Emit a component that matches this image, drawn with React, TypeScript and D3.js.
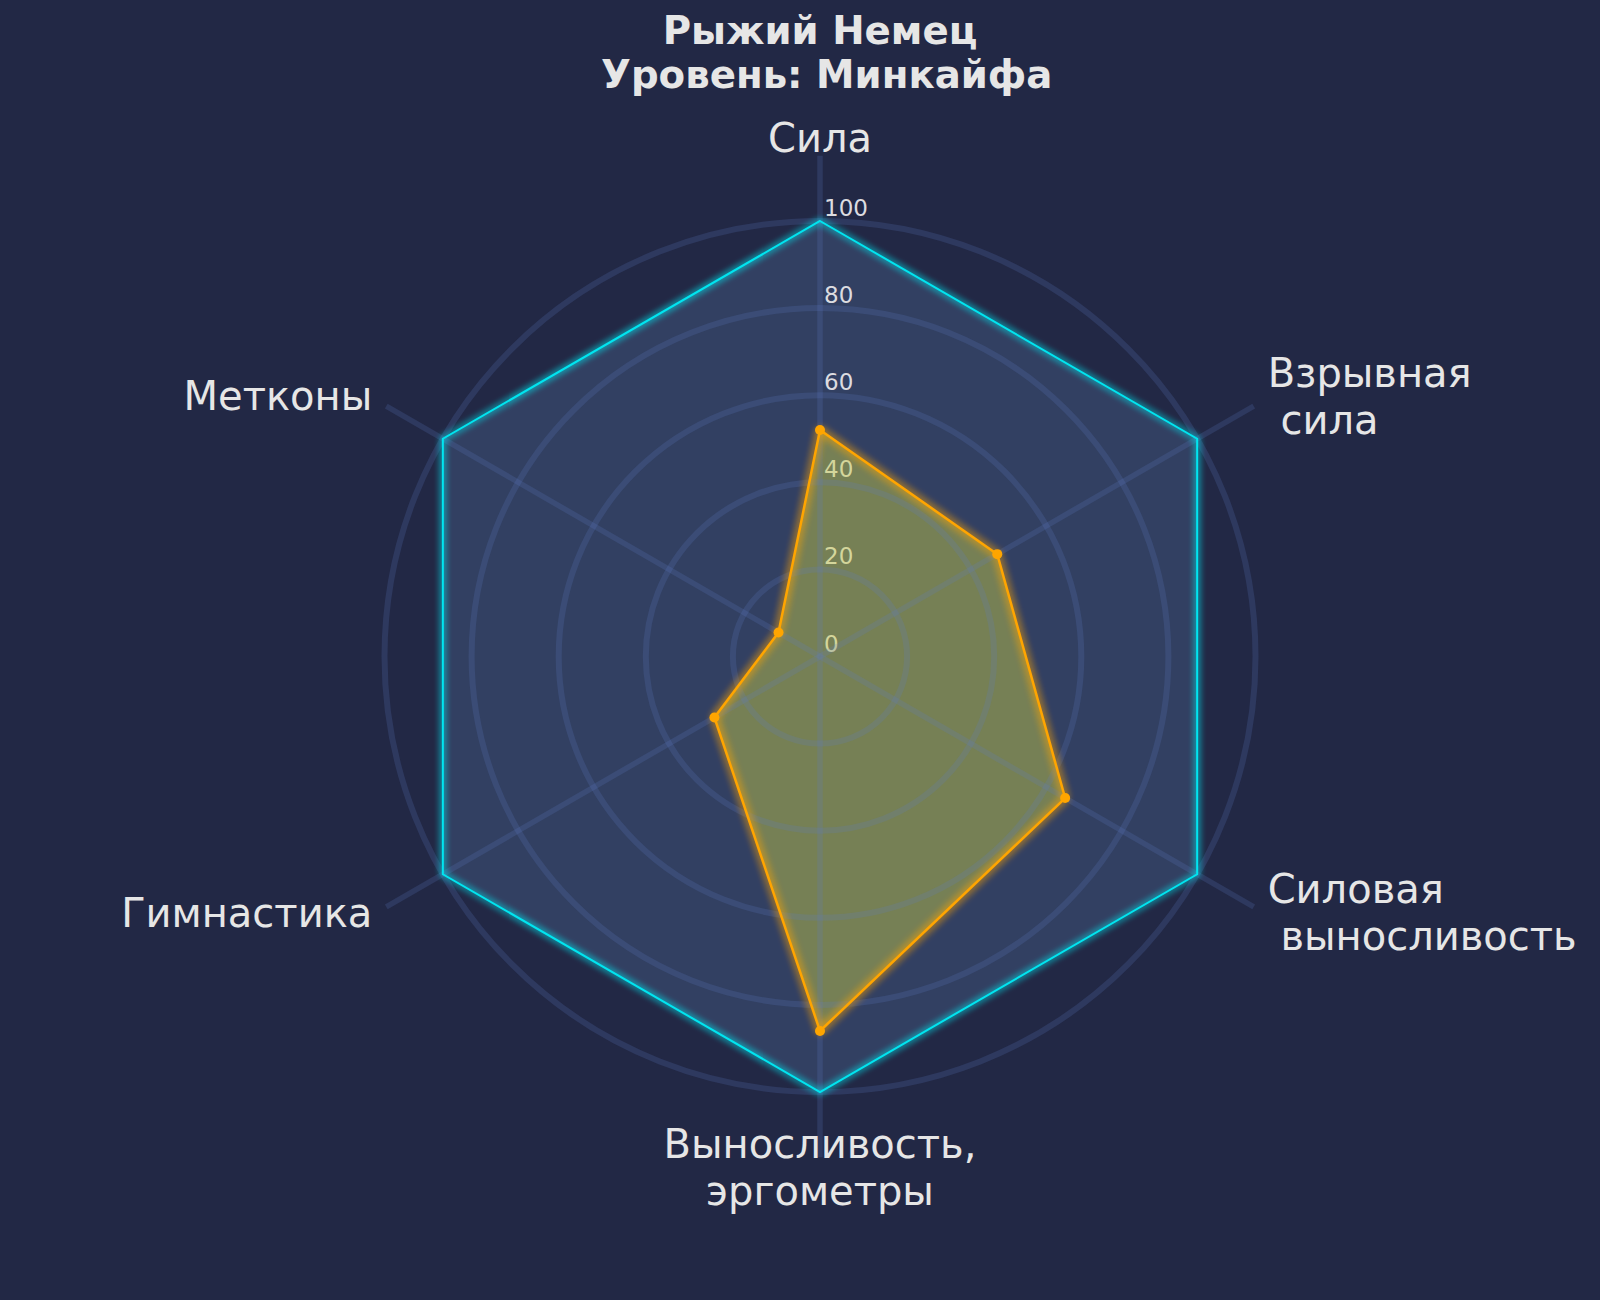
import React, { useEffect, useRef } from "react";
import * as d3 from "d3";

const titleLines = ["Рыжий Немец", " Уровень: Минкайфа"];
const categories = [
  "Сила",
  "Взрывная\n сила",
  "Силовая\n выносливость",
  "Выносливость,\nэргометры",
  "Гимнастика",
  "Метконы",
];
const athleteValues = [52, 47, 65, 86, 28, 11];
const maxValues = [100, 100, 100, 100, 100, 100];
const radialTicks = [0, 20, 40, 60, 80, 100];

const width = 1600;
const height = 1300;

export default function App() {
  const svgRef = useRef<SVGSVGElement>(null);

  useEffect(() => {
    document.body.style.margin = "0";
    const svg = d3.select(svgRef.current);
    svg.selectAll("*").remove();

    const cx = 820;
    const cy = 656.5;
    const font = "'DejaVu Sans', sans-serif";
    const textColor = "#e6e6e6";

    const r = d3.scaleLinear().domain([0, 100]).range([0, 435.5]);
    const angle = d3
      .scaleLinear()
      .domain([0, categories.length])
      .range([0, 2 * Math.PI]);

    const defs = svg.append("defs");
    const glow = (id: string, sd: number) => {
      const f = defs
        .append("filter")
        .attr("id", id)
        .attr("x", "-20%")
        .attr("y", "-20%")
        .attr("width", "140%")
        .attr("height", "140%");
      f.append("feGaussianBlur").attr("in", "SourceGraphic").attr("stdDeviation", sd).attr("result", "blur");
      const m = f.append("feMerge");
      m.append("feMergeNode").attr("in", "blur");
      m.append("feMergeNode").attr("in", "blur");
      m.append("feMergeNode").attr("in", "SourceGraphic");
    };
    glow("glowCyan", 3.5);
    glow("glowOrange", 4);

    svg.append("rect").attr("width", width).attr("height", height).attr("fill", "#222845");

    const g = svg.append("g").attr("transform", `translate(${cx},${cy})`);

    const radar = d3
      .lineRadial<number>()
      .angle((d, i) => angle(i))
      .radius((d) => r(d))
      .curve(d3.curveLinearClosed);

    // max hexagon fill
    g.append("path").attr("d", radar(maxValues)).attr("fill", "#324062");

    // radial tick labels (under the data fill)
    g.selectAll(".rtick")
      .data(radialTicks)
      .enter()
      .append("text")
      .attr("x", 4)
      .attr("y", (d) => -r(d) - 5)
      .attr("font-family", font)
      .attr("font-size", 23)
      .attr("fill", "#dcdce0")
      .text((d) => d);

    // athlete fill
    g.append("path")
      .attr("d", radar(athleteValues))
      .attr("fill", "rgb(201,206,71)")
      .attr("fill-opacity", 0.45);

    // grid rings
    g.selectAll(".ring")
      .data(radialTicks.filter((d) => d > 0))
      .enter()
      .append("circle")
      .attr("r", (d) => r(d))
      .attr("fill", "none")
      .attr("stroke", "rgba(95,125,200,0.2)")
      .attr("stroke-width", 6);

    // spokes
    g.selectAll(".spoke")
      .data(categories)
      .enter()
      .append("line")
      .attr("x1", 0)
      .attr("y1", 0)
      .attr("x2", (d, i) => r(115) * Math.sin(angle(i)))
      .attr("y2", (d, i) => -r(115) * Math.cos(angle(i)))
      .attr("stroke", "rgba(95,125,200,0.2)")
      .attr("stroke-width", 5.5);

    // max hexagon outline
    g.append("path")
      .attr("d", radar(maxValues))
      .attr("fill", "none")
      .attr("stroke", "#00e5f0")
      .attr("stroke-width", 2)
      .attr("filter", "url(#glowCyan)");

    // athlete outline
    g.append("path")
      .attr("d", radar(athleteValues))
      .attr("fill", "none")
      .attr("stroke", "#ffa500")
      .attr("stroke-width", 2.5)
      .attr("filter", "url(#glowOrange)");

    g.selectAll(".pt")
      .data(athleteValues)
      .enter()
      .append("circle")
      .attr("cx", (d, i) => r(d) * Math.sin(angle(i)))
      .attr("cy", (d, i) => -r(d) * Math.cos(angle(i)))
      .attr("r", 5)
      .attr("fill", "#ffa500");

    // category labels
    const labelR = r(118.7);
    const lineH = 47;
    categories.forEach((label, i) => {
      const a = angle(i);
      const s = Math.sin(a);
      const c = Math.cos(a);
      const x = labelR * s;
      const y = -labelR * c;
      const anchor = Math.abs(s) < 0.01 ? "middle" : s > 0 ? "start" : "end";
      const lines = label.split("\n");
      const t = g
        .append("text")
        .attr("x", x)
        .attr("y", y)
        .attr("text-anchor", anchor)
        .attr("font-family", font)
        .attr("font-size", 40)
        .attr("fill", textColor)
        .style("white-space", "pre");
      lines.forEach((ln, j) => {
        t.append("tspan")
          .attr("x", x)
          .attr("y", y + 12 + (j - (lines.length - 1) / 2) * lineH - (c < -0.99 ? 4 : 0))
          .text(ln);
      });
    });

    // title
    const title = svg
      .append("text")
      .attr("text-anchor", "middle")
      .attr("font-family", font)
      .attr("font-size", 38.7)
      .attr("font-weight", "bold")
      .attr("fill", textColor)
      .style("white-space", "pre");
    titleLines.forEach((ln, j) => {
      title.append("tspan").attr("x", cx).attr("y", 44 + j * 44).text(ln);
    });
  }, []);

  return (
    <svg
      ref={svgRef}
      width={width}
      height={height}
      style={{ display: "block", position: "absolute", left: 0, top: 0 }}
    />
  );
}
